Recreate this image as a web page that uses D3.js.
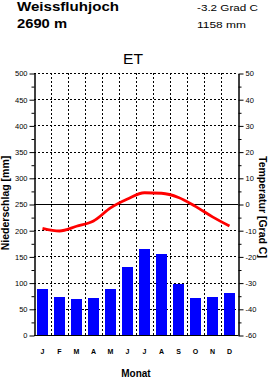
<!DOCTYPE html>
<html>
<head>
<meta charset="utf-8">
<script src="https://cdnjs.cloudflare.com/ajax/libs/d3/7.8.5/d3.min.js"></script>
<style>
  body { margin: 0; background: #fff; }
  svg { display: block; font-family: "Liberation Sans", Arial, sans-serif; }
</style>
</head>
<body>
<svg id="chart" width="270" height="378"></svg>
<script>
// data
const months = ["Jan", "Feb", "Mar", "Apr", "Mai", "Jun", "Jul", "Aug", "Sep", "Okt", "Nov", "Dez"];
const monthLabels = ["J", "F", "M", "A", "M", "J", "J", "A", "S", "O", "N", "D"];
const precip = [87, 73, 69, 71, 87, 130, 164, 155, 98, 71, 73, 80];
const temp = [-9.3, -10.3, -8.5, -6.5, -1.5, 1.9, 4.3, 4.1, 2.5, -0.9, -4.9, -8.4];
const precipTicks = [0, 50, 100, 150, 200, 250, 300, 350, 400, 450, 500];
const tempTicks = [50, 40, 30, 20, 10, 0, -10, -20, -30, -40, -50];
const tempTickLabels = ["50", "40", "30", "20", "10", "0", "-10", "-20", "-30", "-40", "-60"];

const svg = d3.select("svg#chart");
const pLeft = 34, pRight = 238, pTop = 73, pBottom = 335;

const x = d3.scaleBand().domain(months).range([pLeft, pRight]);
const y = d3.scaleLinear().domain([0, 500]).range([pBottom, pTop]);
const yT = d3.scaleLinear().domain([-50, 50]).range([pBottom, pTop]);

// header texts
const txt = (s, px, py, size, weight, len) => {
    const t = svg.append("text")
        .attr("x", px).attr("y", py)
        .attr("font-size", size)
        .attr("font-weight", weight)
        .text(s);
    if (len) t.attr("textLength", len).attr("lengthAdjust", "spacingAndGlyphs");
    return t;
}
txt("Weissfluhjoch", 17, 11, 12.5, "bold", 102);
txt("2690 m", 17, 28, 12, "bold", 50);
txt("-3.2 Grad C", 197, 11, 9, "normal", 61);
txt("1158 mm", 197, 27.5, 9, "normal", 49);
txt("ET", 123, 63.5, 14, "normal", 20);

// grid
const grid = svg.append("g").attr("stroke", "#000").attr("stroke-width", 1).attr("stroke-dasharray", "2,2");
grid.selectAll("line.h")
    .data(precipTicks.filter(d => d !== 0 && d !== 250))
    .join("line")
    .attr("x1", pLeft).attr("x2", pRight)
    .attr("y1", d => Math.round(y(d)) + 0.5).attr("y2", d => Math.round(y(d)) + 0.5);
grid.selectAll("line.v")
    .data(months.slice(1))
    .join("line")
    .attr("x1", d => Math.round(x(d)) + 0.5).attr("x2", d => Math.round(x(d)) + 0.5)
    .attr("y1", pTop).attr("y2", pBottom);

// bars
const bw = 11;
svg.append("g").selectAll("rect")
    .data(precip)
    .join("rect")
    .attr("x", (d, i) => Math.round(x(months[i]) + (x.bandwidth() - bw) / 2))
    .attr("width", bw)
    .attr("y", d => Math.round(y(d)))
    .attr("height", d => pBottom - Math.round(y(d)))
    .attr("fill", "#0000ff");

// zero temperature line + bottom line
svg.append("line")
    .attr("x1", pLeft).attr("x2", pRight)
    .attr("y1", Math.round(yT(0)) + 0.5).attr("y2", Math.round(yT(0)) + 0.5)
    .attr("stroke", "#000");
svg.append("line")
    .attr("x1", pLeft).attr("x2", pRight)
    .attr("y1", pBottom + 0.5).attr("y2", pBottom + 0.5)
    .attr("stroke", "#000");

// temperature line
const line = d3.line()
    .x((d, i) => x(months[i]) + x.bandwidth() / 2)
    .y(d => yT(d))
    .curve(d3.curveMonotoneX);
svg.append("path")
    .datum(temp)
    .attr("d", line)
    .attr("fill", "none")
    .attr("stroke", "#ff0000")
    .attr("stroke-width", 2.8);

// axes
const styleAxis = (g) => {
    g.select(".domain").attr("stroke", "#000");
    g.selectAll(".tick line").attr("stroke", "#000");
    g.selectAll(".tick text").attr("font-size", 7.5).attr("fill", "#000")
        .attr("font-family", "'Liberation Sans', Arial, sans-serif");
}
const yMinor = d3.range(25, 500, 50);
svg.append("g")
    .attr("transform", `translate(${pLeft + 0.5},0.5)`)
    .call(d3.axisLeft(y).tickValues(yMinor).tickSize(3).tickFormat("").tickSizeOuter(0))
    .call(styleAxis);
svg.append("g")
    .attr("transform", `translate(${pLeft + 0.5},0.5)`)
    .call(d3.axisLeft(y).tickValues(precipTicks).tickSize(5).tickPadding(2).tickSizeOuter(0))
    .call(styleAxis);

const tMinor = d3.range(-45, 50, 10);
svg.append("g")
    .attr("transform", `translate(${pRight + 0.5},0.5)`)
    .call(d3.axisRight(yT).tickValues(tMinor).tickSize(3).tickFormat("").tickSizeOuter(0))
    .call(styleAxis);
svg.append("g")
    .attr("transform", `translate(${pRight + 0.5},0.5)`)
    .call(d3.axisRight(yT).tickValues(tempTicks).tickSize(5).tickPadding(2).tickSizeOuter(0)
        .tickFormat((d, i) => tempTickLabels[i]))
    .call(styleAxis);

// month labels
svg.append("g").selectAll("text")
    .data(monthLabels)
    .join("text")
    .attr("x", (d, i) => x(months[i]) + x.bandwidth() / 2)
    .attr("y", 354)
    .attr("text-anchor", "middle")
    .attr("font-size", 7)
    .attr("font-weight", "bold")
    .text(d => d);

// axis titles
svg.append("text")
    .attr("x", 136).attr("y", 377)
    .attr("text-anchor", "middle")
    .attr("font-size", 10).attr("font-weight", "bold")
    .text("Monat");
svg.append("text")
    .attr("transform", "translate(9,203) rotate(-90)")
    .attr("text-anchor", "middle")
    .attr("font-size", 10.5).attr("font-weight", "bold")
    .text("Niederschlag [mm]");
svg.append("text")
    .attr("transform", "translate(259,207) rotate(90)")
    .attr("text-anchor", "middle")
    .attr("font-size", 10.5).attr("font-weight", "bold")
    .text("Temperatur [Grad C]");
</script>
</body>
</html>
